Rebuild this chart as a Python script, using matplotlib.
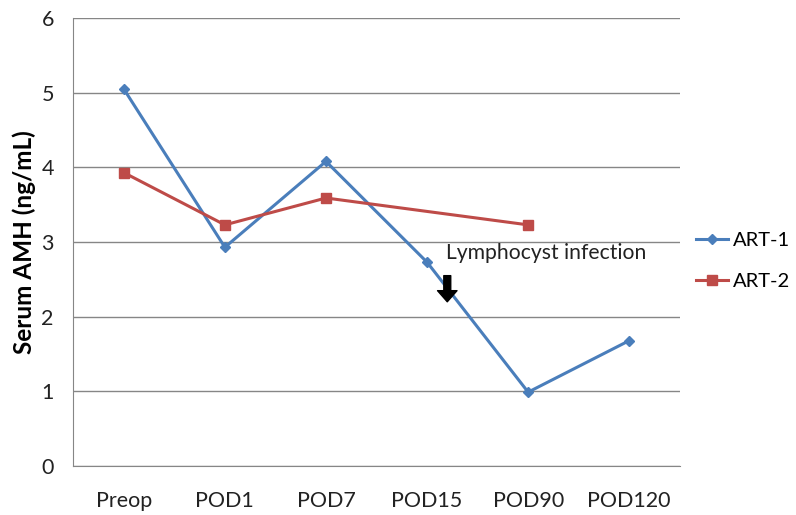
import matplotlib.pyplot as plt
import matplotlib

categories = ['Preop', 'POD1', 'POD7', 'POD15', 'POD90', 'POD120']
art1_values = [5.05, 2.93, 4.08, 2.73, 0.99, 1.68]
art2_idx = [0, 1, 2, 4]
art2_values = [3.93, 3.23, 3.59, 3.23]

matplotlib.rcParams.update({'font.family': ['Lato', 'DejaVu Sans']})

fig = plt.figure(figsize=(7.96, 5.15), dpi=100)
ax = fig.add_axes([0.092, 0.095, 0.762, 0.87])

x = list(range(len(categories)))
ax.plot(x, art1_values, color='#4A7EBB', linewidth=2.2, marker='D', markersize=5, label='ART-1')
ax.plot(art2_idx, art2_values, color='#BE4B48', linewidth=2.2, marker='s', markersize=6.5, label='ART-2')

ax.set_xlim(-0.5, len(categories) - 0.5)
ax.set_ylim(0, 6)
ax.set_yticks(range(7))
ax.set_xticks(x)
ax.set_xticklabels(categories)
ax.tick_params(axis='both', length=0, labelsize=15.5, colors='#222222')
ax.tick_params(axis='x', pad=18)
ax.tick_params(axis='y', pad=14)
ax.grid(axis='y', color='#868686', linewidth=1)
ax.set_axisbelow(True)
for s in ['top', 'right']:
    ax.spines[s].set_visible(False)
for s in ['left', 'bottom']:
    ax.spines[s].set_color('#868686')

ax.set_ylabel('Serum AMH (ng/mL)', fontsize=17.5, fontweight='bold', labelpad=4)

ax.text(4.18, 2.85, 'Lymphocyst infection', fontsize=15.2, ha='center', va='center', color='#222222')
ax.annotate('', xy=(3.2, 2.2), xytext=(3.2, 2.55),
            arrowprops=dict(facecolor='black', edgecolor='black', width=5, headwidth=14, headlength=8))

ax.legend(loc='center left', bbox_to_anchor=(1.026, 0.458), frameon=False, fontsize=14.5,
          borderaxespad=0, borderpad=0, labelspacing=1.2, handlelength=1.6, handletextpad=0.25)

fig.savefig('out.png', dpi=100)
